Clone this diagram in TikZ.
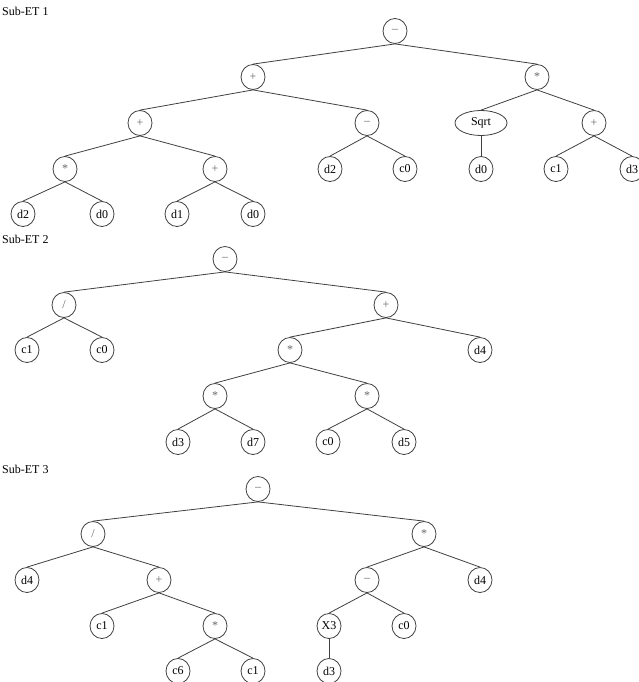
\documentclass[tikz,border=0pt]{standalone}
\usepackage{fontspec}
\setmainfont{Liberation Serif}
\usetikzlibrary{shapes.geometric}
\tikzset{link/.style={draw=black!75, line width=0.8pt}}
\begin{document}
\begin{tikzpicture}[x=1pt, y=-1pt,
    vertex/.style={ellipse, draw=black!75, line width=0.8pt, minimum width=24pt, minimum height=25pt, inner sep=0.5pt, font=\fontsize{12}{14}\selectfont},
    op/.style={vertex, text=black!60},
    title/.style={anchor=west, inner sep=0pt, font=\fontsize{12}{14}\selectfont}]
	  \useasboundingbox (0,0) rectangle (639,682);
	  \node[title] (s1) at (2,11) {Sub-ET 1};
	  \node[title] (s2) at (2,239) {Sub-ET 2};
	  \node[title] (s3) at (2,469) {Sub-ET 3};

	  % Sub-ET 1
	  \node[op] (a1) at (395,31) {–};
	  \node[op] (a2) at (253,77) {+};
	  \node[op] (a3) at (537,77) {*};
	  \node[op] (a4) at (140,123) {+};
	  \node[op] (a5) at (367,123) {–};
	  \node[vertex, minimum width=52pt] (a6) at (481,123) {Sqrt};
	  \node[op] (a7) at (594,123) {+};
	  \node[op] (a8) at (65,169) {*};
	  \node[op] (a9) at (215,169) {+};
	  \node[vertex] (a10) at (330,169) {d2};
	  \node[vertex] (a11) at (405,169) {c0};
	  \node[vertex] (a12) at (481,169) {d0};
	  \node[vertex] (a13) at (556,169) {c1};
	  \node[vertex] (a14) at (632,169) {d3};
	  \node[vertex] (a15) at (23,214) {d2};
	  \node[vertex] (a16) at (102,214) {d0};
	  \node[vertex] (a17) at (177,214) {d1};
	  \node[vertex] (a18) at (253,214) {d0};

	  \draw[link] (a1.south) -- (a2.north);
	  \draw[link] (a1.south) -- (a3.north);
	  \draw[link] (a2.south) -- (a4.north);
	  \draw[link] (a2.south) -- (a5.north);
	  \draw[link] (a3.south) -- (a6.north);
	  \draw[link] (a3.south) -- (a7.north);
	  \draw[link] (a4.south) -- (a8.north);
	  \draw[link] (a4.south) -- (a9.north);
	  \draw[link] (a5.south) -- (a10.north);
	  \draw[link] (a5.south) -- (a11.north);
	  \draw[link] (a6.south) -- (a12.north);
	  \draw[link] (a7.south) -- (a13.north);
	  \draw[link] (a7.south) -- (a14.north);
	  \draw[link] (a8.south) -- (a15.north);
	  \draw[link] (a8.south) -- (a16.north);
	  \draw[link] (a9.south) -- (a17.north);
	  \draw[link] (a9.south) -- (a18.north);

	  % Sub-ET 2
	  \node[op] (b1) at (225,259) {–};
	  \node[op] (b2) at (64,305) {/};
	  \node[op] (b3) at (386,305) {+};
	  \node[vertex] (b4) at (27,350) {c1};
	  \node[vertex] (b5) at (102,350) {c0};
	  \node[op] (b6) at (290,350) {*};
	  \node[vertex] (b7) at (480,350) {d4};
	  \node[op] (b8) at (215,396) {*};
	  \node[op] (b9) at (367,396) {*};
	  \node[vertex] (b10) at (178,442) {d3};
	  \node[vertex] (b11) at (253,442) {d7};
	  \node[vertex] (b12) at (328,442) {c0};
	  \node[vertex] (b13) at (404,442) {d5};

	  \draw[link] (b1.south) -- (b2.north);
	  \draw[link] (b1.south) -- (b3.north);
	  \draw[link] (b2.south) -- (b4.north);
	  \draw[link] (b2.south) -- (b5.north);
	  \draw[link] (b3.south) -- (b6.north);
	  \draw[link] (b3.south) -- (b7.north);
	  \draw[link] (b6.south) -- (b8.north);
	  \draw[link] (b6.south) -- (b9.north);
	  \draw[link] (b8.south) -- (b10.north);
	  \draw[link] (b8.south) -- (b11.north);
	  \draw[link] (b9.south) -- (b12.north);
	  \draw[link] (b9.south) -- (b13.north);

	  % Sub-ET 3
	  \node[op] (c1) at (258,489) {–};
	  \node[op] (c2) at (93,534) {/};
	  \node[op] (c3) at (424,534) {*};
	  \node[vertex] (c4) at (27,580) {d4};
	  \node[op] (c5) at (159,580) {+};
	  \node[op] (c6) at (367,580) {–};
	  \node[vertex] (c7) at (480,580) {d4};
	  \node[vertex] (c8) at (102,626) {c1};
	  \node[op] (c9) at (215,626) {*};
	  \node[vertex] (c10) at (329,626) {X3};
	  \node[vertex] (c11) at (404,626) {c0};
	  \node[vertex] (c12) at (178,671) {c6};
	  \node[vertex] (c13) at (253,671) {c1};
	  \node[vertex] (c14) at (329,671) {d3};

	  \draw[link] (c1.south) -- (c2.north);
	  \draw[link] (c1.south) -- (c3.north);
	  \draw[link] (c2.south) -- (c4.north);
	  \draw[link] (c2.south) -- (c5.north);
	  \draw[link] (c3.south) -- (c6.north);
	  \draw[link] (c3.south) -- (c7.north);
	  \draw[link] (c5.south) -- (c8.north);
	  \draw[link] (c5.south) -- (c9.north);
	  \draw[link] (c6.south) -- (c10.north);
	  \draw[link] (c6.south) -- (c11.north);
	  \draw[link] (c9.south) -- (c12.north);
	  \draw[link] (c9.south) -- (c13.north);
	  \draw[link] (c10.south) -- (c14.north);
	\end{tikzpicture}
\end{document}
